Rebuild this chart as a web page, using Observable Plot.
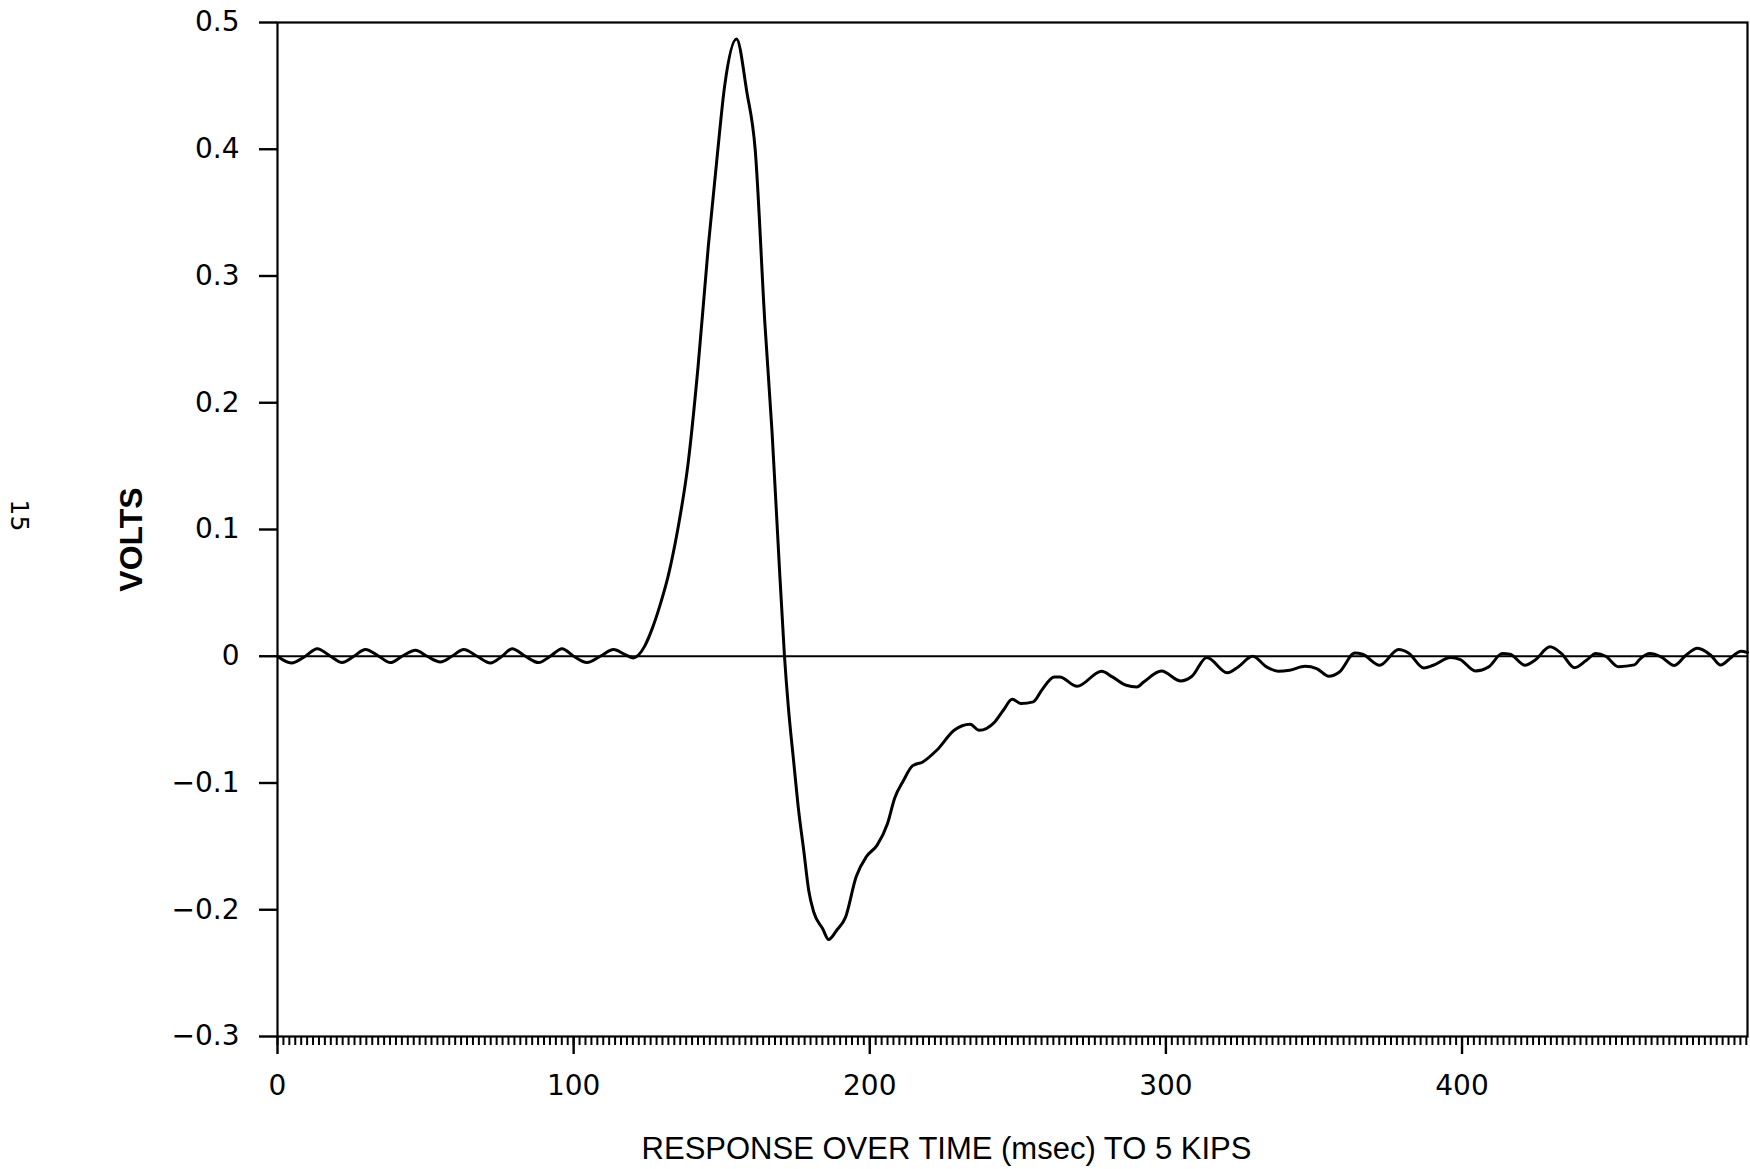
<!DOCTYPE html>
<html><head><meta charset="utf-8">
<script src="https://cdn.jsdelivr.net/npm/d3@7"></script>
<script src="https://cdn.jsdelivr.net/npm/@observablehq/plot@0.6"></script>
<style>
html,body{margin:0;padding:0;background:#fff;}
#chart svg{display:block;}
</style></head><body><div id="chart"></div>
<script>
const timeMs = [
  0, 4.7, 9.4, 13.4, 17.9, 21.8, 25.8, 29.7, 34.2, 38.1, 42.1, 46.6, 50.5, 55, 58.9, 62.9,
  67.4, 71.9, 75.8, 79.2, 83.7, 88.2, 92.1, 96.1, 100, 104.5, 109, 113.5, 117.4, 120.2, 121.9,
  124, 126.4, 129, 132, 135, 138.7, 142, 145.5, 148.5, 151, 155, 158.5, 161.3, 164.6, 167, 169,
  171.2, 172.5, 174.3, 175.8, 177.8, 179.4, 181.1, 184.1, 186.1, 188.9, 191.8, 195.4, 198.9,
  202.5, 206, 208.4, 211.4, 214.4, 217.9, 222.6, 228.5, 233.9, 236.9, 242.2, 245.1, 248.1,
  251.1, 255.2, 258.2, 262.3, 264.1, 270, 278.3, 281.9, 286.6, 290.2, 292.5, 298.5, 305,
  308.8, 313.8, 320.8, 324.4, 329.3, 334, 337.9, 341.8, 347, 350.9, 355, 358.6, 363.8, 366.4,
  372.2, 378.6, 381.9, 387.1, 390.3, 396.1, 399.4, 404.5, 409, 413.6, 416.2, 421.3, 424.6,
  429.7, 433.6, 438, 442, 445.2, 448.5, 452.8, 458.2, 460.1, 463.5, 467.2, 471.7, 475.6,
  479.5, 484, 487.3, 491.1, 494.2, 496.4
];
const volts = [
  0, -0.0053, 0, 0.006, 0, -0.005, 0, 0.0053, 0, -0.005, 0, 0.0047, 0, -0.0045, 0, 0.0053,
  0, -0.0053, 0, 0.006, 0, -0.005, 0, 0.006, 0, -0.005, 0, 0.0053, 0.0013, -0.0013, 0.001,
  0.008, 0.021, 0.039, 0.064, 0.098, 0.153, 0.228, 0.324, 0.395, 0.45, 0.487, 0.445, 0.4, 0.262, 0.177, 0.091,
  0, -0.04, -0.083, -0.118, -0.155, -0.185, -0.202, -0.215, -0.2235, -0.216, -0.206, -0.174, -0.158,
  -0.149, -0.132, -0.112, -0.098, -0.0865, -0.0834, -0.0742, -0.0584, -0.0536, -0.0584, -0.0518, -0.0426, -0.0339,
  -0.0373, -0.036, -0.0263, -0.0163, -0.0163, -0.0237, -0.0118, -0.0163, -0.0229, -0.0242, -0.0203, -0.0117, -0.0195,
  -0.0158, -0.001, -0.0131, -0.0084, 0, -0.0084, -0.0118, -0.011, -0.0079, -0.0097, -0.0158, -0.0124, 0.0026, 0.0016,
  -0.0071, 0.0053, 0.0026, -0.0092, -0.0071, -0.001, -0.0026, -0.0116, -0.0084, 0.0021, 0.0016, -0.0071, -0.0032,
  0.0074, 0.0021, -0.009, -0.0032, 0.0021, 0, -0.0082, -0.0068, -0.0022, 0.0021, -0.0005, -0.0073, 0.0008,
  0.0063, 0.0008, -0.007, -0.0005, 0.004, 0.003
];
const xMajorTicks = [0, 100, 200, 300, 400];
const xMinorTicks = d3.range(0, 497, 2);
const yTicks = [-0.3, -0.2, -0.1, 0, 0.1, 0.2, 0.3, 0.4, 0.5];
const xTitle = "RESPONSE OVER TIME (msec) TO 5 KIPS";
const yTitle = "VOLTS";
const pageNumber = "15";

const data = timeMs.map((t, i) => ({t, v: volts[i]}));
const yFormat = d => d === 0 ? "0" : d3.format(".1f")(d).replace("-", "\u2212");

const chart = Plot.plot({
  width: 1750, height: 1169,
  marginLeft: 277, marginRight: 3, marginTop: 22, marginBottom: 133,
  style: {background: "#fff", color: "#000", fontFamily: "DejaVu Sans"},
  x: {domain: [0, 496.4], label: null},
  y: {domain: [-0.3, 0.5], label: null},
  marks: [
    Plot.frame({stroke: "#000", strokeWidth: 2.2}),
    Plot.ruleY([0], {stroke: "#000", strokeWidth: 2.2}),
    Plot.axisX(xMinorTicks, {tickSize: 9, tickFormat: () => "", strokeWidth: 2, label: null}),
    Plot.axisX(xMajorTicks, {tickSize: 18, tickPadding: 21, fontSize: 28, strokeWidth: 2.4, label: null}),
    Plot.axisY(yTicks, {tickSize: 18, tickPadding: 20, fontSize: 28, strokeWidth: 2.4, tickFormat: yFormat, label: null}),
    Plot.line(data, {x: "t", y: "v", curve: "monotone-x", stroke: "#000", strokeWidth: 3}),
    Plot.text([xTitle], {text: d => d, frameAnchor: "bottom", textAnchor: "middle", dy: 122, dx: -66, fontSize: 31, fontFamily: "Liberation Sans"}),
    Plot.text([yTitle], {text: d => d, frameAnchor: "left", textAnchor: "middle", dx: -146, dy: 10, rotate: -90, fontSize: 32, fontWeight: "bold", fontFamily: "Liberation Sans"}),
    Plot.text([pageNumber], {text: d => d, frameAnchor: "left", textAnchor: "middle", dx: -259, dy: -14, rotate: 90, fontSize: 25})
  ]
});
document.getElementById("chart").appendChild(chart);
</script>
</body></html>
